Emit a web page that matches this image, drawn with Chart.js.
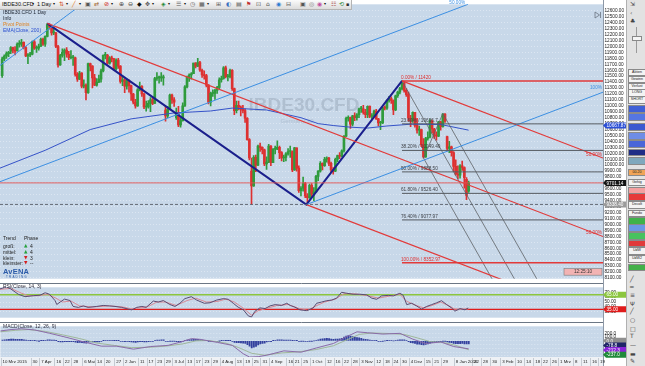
<!DOCTYPE html>
<html><head><meta charset="utf-8">
<script src="https://cdn.jsdelivr.net/npm/chart.js@4.4.1/dist/chart.umd.min.js"></script>
<style>
html,body{margin:0;padding:0;width:645px;height:366px;overflow:hidden;background:#fff;font-family:"Liberation Sans",Arial,sans-serif;}
canvas{position:absolute;left:0;}
.t{position:absolute;white-space:nowrap;line-height:1;z-index:5;}
.g{font-family:"DejaVu Sans",sans-serif;}
#tb{position:absolute;left:0;top:0;width:351px;height:9px;background:linear-gradient(#fbfbfb,#dcdcdc);border-bottom:1px solid #b4b4b4;border-right:1px solid #b4b4b4;z-index:6;font-size:5.5px;color:#111;}
#tools{position:absolute;left:626px;top:0;width:19px;height:366px;background:#e2e2e2;border-left:1px solid #b0b0b0;z-index:6;}
#tools .b{position:absolute;left:1px;width:16px;height:5.6px;border:0.5px solid #8a8a8a;font-size:3.6px;line-height:5.6px;text-align:center;color:#222;overflow:hidden;}
#tools .i{position:absolute;left:3px;font-size:6px;color:#444;font-family:"DejaVu Sans",sans-serif;line-height:1;}
</style></head><body>
<canvas id="main" width="626" height="283" style="top:0px"></canvas>
<canvas id="rsi" width="626" height="39" style="top:283px"></canvas>
<canvas id="macd" width="626" height="44" style="top:322px"></canvas>

<div id="tb">
  <span class="t" style="left:2px;top:2px">IBDE30.CFD</span>
  <span class="t g" style="left:32px;top:2px;font-size:4px">▾</span>
  <span class="t" style="left:37px;top:2px">1 Day</span>
  <span class="t g" style="left:53px;top:2px;font-size:4px">▾</span>
  <span class="t g" style="left:59px;top:1px;color:#d4542a;font-size:6px">⇅</span>
  <span class="t g" style="left:66px;top:2px;font-size:4px">▾</span>
  <span class="t g" style="left:72px;top:1px;color:#e07a20;font-size:6px">╱</span>
  <span class="t g" style="left:79px;top:2px;font-size:4px">▾</span>
  <span class="t g" style="left:85px;top:1px;color:#555;font-size:6px">▣</span>
  <span class="t g" style="left:94px;top:1px;color:#a0622a;font-size:6px">⇄</span>
  <span class="t g" style="left:104px;top:1px;color:#d02020;font-size:6px">⊘</span>
  <span class="t g" style="left:111px;top:2px;font-size:4px">▾</span>
  <span class="t g" style="left:119px;top:1px;color:#444;font-size:6px">⊕</span>
  <span class="t g" style="left:128px;top:1px;color:#444;font-size:6px">⊖</span>
  <span class="t g" style="left:137px;top:1px;color:#111;font-size:6px">◆</span>
  <span class="t g" style="left:145px;top:1px;color:#444;font-size:6px">✥</span>
  <span class="t g" style="left:152px;top:2px;font-size:4px">▾</span>
  <span class="t g" style="left:161px;top:1px;color:#1f8a3a;font-size:6px">◈</span>
  <span class="t g" style="left:168px;top:2px;font-size:4px">▾</span>
  <span class="t g" style="left:176px;top:1px;color:#555;font-size:6px">☰</span>
  <span class="t g" style="left:184px;top:2px;font-size:4px">▾</span>
  <span class="t g" style="left:190px;top:1px;color:#555;font-size:6px">◷</span>
  <span class="t g" style="left:199px;top:1px;color:#555;font-size:6px">▦</span>
  <span class="t g" style="left:207px;top:2px;font-size:4px">▾</span>
  <span class="t g" style="left:216px;top:1px;color:#555;font-size:6px">⊞</span>
  <span class="t g" style="left:226px;top:1px;color:#3a6fc0;font-size:6px">◐</span>
  <span class="t g" style="left:236px;top:1px;color:#555;font-size:6px">▤</span>
  <span class="t g" style="left:246px;top:1px;color:#c03030;font-size:6px">⚑</span>
  <span class="t g" style="left:256px;top:1px;color:#555;font-size:6px">⊡</span>
  <span class="t g" style="left:266px;top:1px;color:#555;font-size:6px">⌂</span>
  <span class="t g" style="left:276px;top:1px;color:#2a7ad0;font-size:6px">◉</span>
  <span class="t g" style="left:286px;top:1px;color:#555;font-size:6px">⊟</span>
  <span class="t g" style="left:300px;top:1px;color:#555;font-size:6px">▣</span>
  <span class="t g" style="left:309px;top:1px;color:#777;font-size:6px">◎</span>
  <span class="t g" style="left:317px;top:1px;color:#c04fa0;font-size:6px">◉</span>
  <span class="t g" style="left:324px;top:2px;font-size:4px">▾</span>
  <span class="t g" style="left:331px;top:1px;color:#a03030;font-size:6px">☷</span>
  <span class="t g" style="left:339px;top:1px;color:#2f8a3a;font-size:6px">⟲</span>
  <span class="t g" style="left:346px;top:2px;color:#333;font-size:5px">▪</span>
</div>

<span class="t" style="left:3px;top:9.5px;font-size:5px;color:#1c2330">IBDE30.CFD 1 Day</span>
<span class="t" style="left:3px;top:15.5px;font-size:5px;color:#1c2330">Info</span>
<span class="t" style="left:3px;top:21.5px;font-size:5px;color:#e0821e">Pivot Points</span>
<span class="t" style="left:3px;top:27.5px;font-size:5px;color:#2a4fd0">EMA(Close, 200)</span>

<span class="t" style="left:3px;top:236px;font-size:5px;color:#222">Trend</span>
<span class="t" style="left:24px;top:236px;font-size:5px;color:#222">Phase</span>
<span class="t" style="left:3px;top:243.5px;font-size:5px;color:#222">groß:</span>
<span class="t g" style="left:24px;top:243.5px;font-size:4.5px;color:#23a03a">▲</span><span class="t" style="left:30px;top:243.5px;font-size:5px;color:#222">4</span>
<span class="t" style="left:3px;top:249.5px;font-size:5px;color:#222">mittel:</span>
<span class="t g" style="left:24px;top:249.5px;font-size:4.5px;color:#23a03a">▲</span><span class="t" style="left:30px;top:249.5px;font-size:5px;color:#222">4</span>
<span class="t" style="left:3px;top:255.5px;font-size:5px;color:#222">klein:</span>
<span class="t g" style="left:24px;top:255.5px;font-size:4.5px;color:#d42020">▼</span><span class="t" style="left:30px;top:255.5px;font-size:5px;color:#222">3</span>
<span class="t" style="left:3px;top:261px;font-size:5px;color:#222">kleinster:</span>
<span class="t g" style="left:24px;top:261px;font-size:4.5px;color:#d42020">▼</span><span class="t" style="left:30px;top:261px;font-size:5px;color:#222">--</span>
<span class="t" style="left:3px;top:268px;font-size:7.5px;font-weight:bold;color:#2a5aa8;letter-spacing:0.2px">AvENA</span>
<span class="t" style="left:6px;top:276px;font-size:3px;color:#2a5aa8;letter-spacing:1.2px">TRADING</span>
<span class="t" style="left:3px;top:284px;font-size:5px;color:#2a2a3a">RSI(Close, 14, 3)</span>
<span class="t" style="left:3px;top:323.5px;font-size:5px;color:#2a2a3a">MACD(Close, 12, 26, 9)</span>

<div id="tools"></div>

<script>
// ---------------- DATA ----------------
const opens = [
11510,11790,11840,11880,11920,11980,11940,11930,12040,12040,
12070,11980,11840,11860,11870,12080,11970,11970,12000,12120,
12040,12170,12370,12340,12230,12230,12000,11690,11850,11900,
11940,11870,11810,11810,11810,11530,11450,11550,11330,11350,
11220,11710,11670,11470,11350,11400,11450,11590,11850,11850,
11720,11810,11790,11620,11770,11670,11410,11440,11330,11420,
11340,11200,11060,11000,11270,11330,11200,10980,10980,11040,
11100,11040,11460,11470,11470,11470,10930,10830,10940,11180,
11100,10800,10890,10680,10750,11000,11320,11480,11520,11540,
11720,11670,11730,11600,11520,11510,11350,11060,11210,11210,
11260,11310,11440,11460,11640,11490,11490,11600,11290,10920,
11010,10980,10940,10920,10790,10430,9900,9650,10130,10000,
10320,10300,10260,10020,10050,10320,10040,10270,10270,10300,
10210,10120,10130,10190,10230,10230,9920,10290,9950,9570,
9610,9690,9480,9450,9660,9510,9550,9810,9900,10030,
9990,10100,10120,10030,9920,9900,10100,10160,10150,10240,
10490,10790,10800,10690,10830,10800,10850,10950,10950,10890,
10850,10990,10820,10830,10910,10780,10710,10710,10970,10960,
11090,11120,11090,10930,11170,11230,11290,11380,11260,11190,
10790,10750,10890,10670,10590,10600,10340,10140,10450,10470,
10740,10610,10500,10490,10730,10650,10860,10480,10280,10310,
10210,9980,9850,9830,9990,9960,9760,9560];
const highs = [
11820,11860,11910,11920,12000,11990,12000,12060,12100,12120,
12080,12000,11880,11900,12090,12100,12010,12040,12140,12140,
12180,12390,12380,12350,12310,12240,12020,11870,11960,11960,
11980,11920,11930,11850,11820,11560,11580,11560,11440,11370,
11720,11720,11680,11530,11460,11520,11620,11860,11900,11870,
11830,11840,11800,11790,11800,11680,11500,11460,11450,11440,
11350,11210,11110,11290,11400,11340,11210,11080,11090,11140,
11150,11480,11560,11500,11560,11520,10990,10990,11200,11200,
11140,10960,10990,10800,11050,11340,11500,11540,11560,11720,
11730,11800,11750,11620,11590,11530,11360,11230,11270,11280,
11330,11470,11500,11660,11670,11530,11620,11610,11300,11080,
11080,11000,11010,10950,10800,10450,10120,10160,10170,10340,
10370,10310,10270,10140,10350,10330,10280,10320,10410,10320,
10230,10170,10210,10280,10320,10240,10300,10290,9990,9640,
9800,9710,9520,9680,9690,9620,9830,9910,10060,10040,
10130,10140,10130,10050,9960,10120,10170,10210,10260,10500,
10810,10830,10810,10840,10880,10870,10960,10990,11010,10940,
11000,11000,10870,10930,10940,10790,10740,10980,11000,11100,
11160,11150,11100,11180,11250,11310,11420,11400,11290,11230,
10840,10900,10890,10790,10660,10610,10450,10470,10560,10770,
10760,10620,10560,10740,10740,10870,10870,10490,10400,10320,
10230,10090,9990,10010,10070,9970,9790,9730];
const lows = [
11480,11760,11800,11830,11880,11890,11860,11920,11990,12000,
11960,11830,11710,11830,11860,11950,11900,11940,12000,12020,
12000,12160,12290,12190,12200,11980,11650,11680,11820,11760,
11820,11780,11790,11680,11500,11410,11440,11300,11300,11100,
11210,11590,11300,11340,11330,11390,11400,11570,11790,11700,
11700,11740,11600,11600,11630,11380,11340,11220,11280,11230,
11090,11030,10960,10990,11250,11160,10950,10910,10960,10900,
11020,11040,11430,11380,11410,11350,10740,10800,10930,11040,
10990,10770,10650,10640,10740,10990,11300,11410,11450,11540,
11640,11660,11580,11480,11450,11320,11030,11000,11160,11110,
11210,11290,11400,11450,11470,11420,11470,11260,10850,10880,
10930,10830,10880,10720,10420,10090,9340,9640,9890,9990,
10230,10190,9990,9930,10040,9990,10040,10190,10260,10110,
10070,10060,10070,10170,10130,9890,9910,9900,9540,9480,
9560,9450,9340,9440,9460,9400,9550,9740,9880,9920,
9980,10050,9990,9880,9850,9890,10060,10110,10140,10220,
10480,10740,10620,10660,10750,10760,10800,10890,10860,10800,
10800,10800,10770,10820,10770,10660,10600,10700,10930,10940,
11060,11040,10850,10920,11140,11200,11270,11230,11160,10740,
10650,10720,10640,10540,10500,10310,10120,10130,10420,10460,
10540,10450,10420,10480,10590,10640,10720,10240,10210,10150,
9890,9830,9770,9780,9910,9610,9420,9540];
const closes = [
11790,11840,11880,11900,11980,11940,11920,12040,12040,12070,
11980,11840,11860,11870,12080,11970,11970,12000,12120,12040,
12170,12370,12340,12230,12230,12000,11690,11850,11900,11940,
11870,11810,11810,11810,11530,11450,11550,11330,11350,11220,
11710,11670,11470,11350,11400,11450,11590,11850,11850,11720,
11810,11790,11620,11770,11670,11410,11440,11330,11420,11340,
11200,11060,11000,11270,11330,11200,10980,10980,11040,11100,
11040,11460,11470,11470,11470,11490,10830,10940,11180,11100,
11060,10890,10680,10750,11000,11320,11480,11520,11540,11720,
11670,11730,11600,11520,11510,11350,11060,11210,11210,11260,
11310,11440,11460,11640,11490,11490,11600,11290,10920,11010,
10980,10940,10920,10790,10430,10120,9650,10130,10000,10320,
10300,10260,10020,10050,10320,10040,10270,10270,10300,10210,
10120,10130,10190,10230,10230,9920,10290,9950,9570,9610,
9690,9480,9450,9660,9510,9550,9810,9900,10030,9990,
10100,10120,10030,9920,9900,10100,10160,10150,10240,10490,
10790,10800,10690,10830,10800,10850,10950,10950,10890,10850,
10990,10820,10830,10910,10780,10710,10710,10970,10960,11090,
11120,11090,10930,11170,11230,11290,11380,11260,11190,10790,
10750,10890,10670,10590,10600,10340,10140,10450,10470,10740,
10610,10500,10490,10730,10650,10860,10740,10280,10310,10210,
9980,9850,9830,9990,9960,9790,9490,9701];

const emaPts = [[-1,9950],[20,10250],[41,10600],[60,10780],[80,10880],[97,10913],[107,10962],[123,10930],[139,10800],[147,10700],[154,10668],[162,10640],[170,10625],[179,10660],[190,10690],[204,10685],[217,10590]];

const navyLine = [[21,12390],[141.5,9335],[186,11420]];
const redChannel = [[[21,12390],[279.5,8797]],[[186,11420],[279.5,10120]],[[141.5,9335],[279.5,7417]]];
const blueLines = [[[-1,9721],[216.7,12711]],[[-1,11681],[37.1,12711]],[[141.5,9335],[279.5,11230]]];
const forkLines = [[[186,11420],[239.6,8000]],[[196,10120],[229.2,8000]],[[205,10870],[250,8000]],[[196,10120],[205,10870]]];
const fibStart = 186;
const fibVals = [11420,10696.2,10248.4,9886.5,9524.6,9077.0,8353.0];
const fibTexts = ["0.00% / 11420","23.60% / 10696.7","38.20% / 10249.49","50.00% / 9888.50","61.80% / 9526.40","76.40% / 9077.97","100.00% / 8352.97"];
const lastPrice = 9701.14;
const swingLow = 9338;

const rsiPts = [[-1,77],[2,81],[4,77],[7.5,66],[10.6,61],[14.5,63],[17.6,64],[20,69],[22,66],[24.6,53],[25.4,45],[27,50],[29,56],[31.6,53],[33,41],[35.4,39],[37.8,42],[40,39],[44,41],[47,43],[50,42],[52.5,41],[55.6,39],[58.7,35.5],[60.3,34],[62.6,39],[65,41],[67,39],[70.3,52],[72.6,50],[75,53],[78,45],[80.4,41],[82.7,47.5],[85,57],[88,61],[90.5,54],[94,47.5],[96.7,48.5],[99.8,54],[102.9,57],[105.2,55.6],[107.5,47.5],[109.8,39.4],[112.2,34],[114.5,21.6],[116,19.3],[117.6,31],[119.9,38],[122.3,36.6],[124.6,42],[127,44.7],[130,43],[132.4,47.5],[134,43],[136.2,39.4],[138.5,34],[141.7,32.3],[144.7,37.8],[146.3,47.5],[148.6,50],[151,52.8],[153.3,54],[155.6,58],[157.9,70],[160.3,68],[163.3,66],[166.4,66],[169.6,64.7],[171.9,58],[174.2,55.6],[176.5,62.6],[179.6,63.7],[182,62.6],[185,68],[186.6,63.7],[188.2,44.7],[190.5,47.5],[192.8,42],[195.1,35.5],[197.5,41],[199.8,44.7],[202.1,48.5],[204.4,52.8],[206.8,44.7],[209.1,37.8],[210.6,31.3],[213,36.6],[215.3,34],[216.8,37.8]];
const rsiSigPts = [[-1,76],[4,78],[8,70],[12,63],[17,63],[21,66],[25,58],[28,50],[32,52],[36,42],[42,40],[50,42],[56,40],[60,36],[64,38],[68,41],[72,50],[76,50],[81,43],[86,53],[90,58],[95,50],[100,51],[104,56],[108,50],[112,38],[116,23],[119,32],[123,37],[128,43],[133,45],[138,37],[142,33],[146,42],[150,50],[155,56],[159,67],[164,67],[170,63],[175,58],[180,62],[185,66],[188,52],[192,44],[196,38],[200,43],[204,50],[208,42],[211,34],[214,35],[217,36]];

const macdPts = [[-1,263],[4,300],[9,320],[15,290],[22,200],[30,90],[38,-30],[46,-140],[53,-140],[61,-220],[69,-150],[77,-120],[83,-30],[88,60],[92,40],[100,-40],[107,-120],[112,-340],[115,-430],[119,-420],[123,-380],[131,-265],[139,-300],[146,-190],[154,-70],[159,80],[165,240],[170,215],[177,180],[185,200],[191,45],[197,-70],[204,-30],[210,-150],[217,-212]];
const macdSigPts = [[-1,240],[6,280],[12,300],[20,250],[28,160],[36,60],[44,-60],[52,-120],[60,-180],[68,-170],[76,-140],[84,-80],[90,0],[96,10],[104,-60],[110,-180],[116,-330],[122,-380],[130,-320],[138,-290],[146,-230],[154,-130],[160,20],[166,170],[172,210],[180,195],[187,170],[193,80],[199,-20],[205,-40],[211,-120],[217,-237]];
const macdHist = [
20,30,35,40,45,45,40,40,42,40,
30,20,10,5,10,5,0,-2,5,5,
10,25,28,22,18,5,-20,-25,-25,-22,
-22,-24,-22,-22,-35,-45,-42,-50,-52,-58,
-35,-25,-28,-32,-30,-25,-15,5,15,15,
15,12,5,8,5,-10,-12,-18,-15,-18,
-25,-32,-38,-28,-18,-18,-25,-25,-22,-15,
-12,10,20,22,25,25,-10,-15,-5,-5,
-8,-20,-30,-28,-15,5,22,30,35,42,
40,40,30,22,15,5,-15,-15,-15,-12,
-10,-2,2,10,5,5,8,-10,-40,-45,
-50,-55,-60,-70,-100,-140,-190,-170,-150,-110,
-80,-65,-60,-30,-15,-20,5,15,25,30,
25,20,20,22,20,5,10,2,-10,-8,
-5,-15,-15,-5,-5,0,15,30,45,55,
60,65,60,45,40,45,48,52,70,100,
130,140,125,115,100,90,80,65,50,40,
35,20,15,15,5,-10,-15,-5,0,5,
10,10,0,10,18,25,30,25,15,-20,
-45,-55,-70,-85,-90,-100,-110,-95,-80,-60,
-45,-40,-35,-22,-20,-5,-8,-30,-40,-50,
-65,-72,-75,-72,-70,-78,-80,-79];

const tickSlots = [0,14,18,25,29,33,38,44,48,53,57,64,68,72,76,80,86,90,94,98,102,109,113,117,121,125,133,136,140,144,151,155,159,163,167,174,178,182,186,190,197,201,205,211,219.5,223.7,228,232.6,239.5,243.7,248,251.6,255.8,259.5,266.5,270.2,274.4,278.1];
const tickLabels = ["10 Mrz 2015","30","7 Apr","16","22","28","6 Mai","14","20","27","2 Jun","11","17","23","29","3 Jul","13","17","23","29","4 Aug","13","19","25","31","4 Sep","16","21","25","1 Oct","12","16","22","28","3 Nov","12","18","24","30","4 Dez","15","21","29","8 Jan 2016","22","28","30","3 Feb","10","14","18","22","26","1 Mrz","8","11","16","19"];

// ---------------- SETUP ----------------
Chart.defaults.font.family = '"Liberation Sans", Arial, sans-serif';
Chart.defaults.font.size = 5;
Chart.defaults.color = '#222';
const X_MIN = -1, X_MAX = 279.5;
const BG = '#c8d8e9';
const FONT = '4.7px "Liberation Sans", Arial, sans-serif';

function xy(p){ return {x:p[0], y:p[1]}; }
function seg(pts, color, width, dash, order){
  return {type:'line', data: pts.map(xy), borderColor: color, borderWidth: width, borderDash: dash || [], pointRadius: 0, fill: false, tension: 0, order: order || 1};
}
function drawTag(ctx, x, y, w, text, bg, fg){
  ctx.save();
  ctx.fillStyle = bg;
  ctx.beginPath();
  ctx.moveTo(x, y); ctx.lineTo(x+3, y-3); ctx.lineTo(x+w, y-3); ctx.lineTo(x+w, y+3); ctx.lineTo(x+3, y+3);
  ctx.closePath(); ctx.fill();
  ctx.fillStyle = fg; ctx.font = FONT; ctx.textBaseline = 'middle'; ctx.textAlign = 'left';
  ctx.fillText(text, x+3.5, y+0.4);
  ctx.restore();
}
function panelBg(c, strip){
  const {ctx, chartArea:a, width, height} = c;
  ctx.save();
  ctx.fillStyle = '#ffffff'; ctx.fillRect(0, 0, width, height);
  ctx.fillStyle = BG; ctx.fillRect(a.left, a.top, a.right - a.left, a.bottom - a.top);
  if (strip) { ctx.fillStyle = '#eef1f5'; ctx.fillRect(0, a.bottom, a.right, height - a.bottom); }
  ctx.strokeStyle = '#8d98a6'; ctx.lineWidth = 1;
  ctx.beginPath(); ctx.moveTo(a.right + 0.5, 0); ctx.lineTo(a.right + 0.5, height); ctx.stroke();
  ctx.restore();
}
function topRule(c){
  const {ctx, chartArea:a} = c;
  ctx.save(); ctx.strokeStyle = '#6c7785'; ctx.lineWidth = 1;
  ctx.beginPath(); ctx.moveTo(0, 0.5); ctx.lineTo(a.right, 0.5); ctx.stroke(); ctx.restore();
}
function yAxis(min, max, tickVals, fmt){
  return {type:'linear', position:'right', min:min, max:max,
    afterFit: s => { s.width = 23; },
    afterBuildTicks: s => { s.ticks = tickVals.map(v => ({value: v})); },
    ticks:{callback: v => fmt(v), padding: 1.5, autoSkip: false, color:'#222', font:{size:4.7}},
    grid:{color:'rgba(236,243,250,0.55)', drawTicks:false, lineWidth:1},
    border:{display:false, dash:[1,2]}};
}
const xHidden = {type:'linear', min:X_MIN, max:X_MAX, display:false, offset:false};
const baseOpts = {responsive:false, devicePixelRatio:1, animation:false, layout:{padding:0, autoPadding:false},
  plugins:{legend:{display:false}, tooltip:{enabled:false}}};

// ---------------- MAIN PRICE PANEL ----------------
const idx = opens.map((_, i) => i);
const candleColor = idx.map(i => closes[i] >= opens[i] ? '#2f9b3d' : '#dd3131');
const priceTicks = []; for (let v = 8100; v <= 12600; v += 100) priceTicks.push(v);

const mainDatasets = [
  {type:'bar', data: idx.map(i => ({x:i, y:[lows[i], highs[i]]})), backgroundColor: candleColor, grouped:false, categoryPercentage:1, barPercentage:1, maxBarThickness:1, order:9},
  {type:'bar', data: idx.map(i => ({x:i, y:[opens[i], closes[i]]})), backgroundColor: candleColor, grouped:false, categoryPercentage:1, barPercentage:1, maxBarThickness:2, minBarLength:1, order:8},
  seg(emaPts, '#3552c8', 1, null, 7),
  seg([[X_MIN, lastPrice],[X_MAX, lastPrice]], '#e25050', 0.9),
  seg([[X_MIN, swingLow],[X_MAX, swingLow]], '#5a5f66', 0.9, [3,2]),
  ...fibVals.map((v, i) => seg([[fibStart, v],[X_MAX, v]], (i === 0 || i === fibVals.length - 1) ? '#e23a3a' : '#555a60', (i === 0 || i === fibVals.length - 1) ? 1.5 : 1)),
  ...blueLines.map(l => seg(l, '#3c8fe2', 1)),
  ...redChannel.map(l => seg(l, '#e23a3a', 1.2)),
  ...forkLines.map(l => seg(l, '#5e6266', 0.8)),
  seg(navyLine, '#1b1f8c', 2)
];

const mainOverlay = {
  id:'mainOverlay',
  beforeDraw(c){ panelBg(c, false); },
  beforeDatasetsDraw(c){
    const {ctx} = c;
    ctx.save();
    ctx.fillStyle = 'rgba(120,134,152,0.30)';
    ctx.font = 'bold 19px "Liberation Sans", Arial, sans-serif';
    ctx.textAlign = 'center'; ctx.textBaseline = 'alphabetic';
    ctx.fillText('IBDE30.CFD', 304, 111);
    ctx.font = '6px "Liberation Sans", Arial, sans-serif';
    ctx.fillText('Germany 30', 297, 123);
    ctx.restore();
  },
  afterDatasetsDraw(c){
    const {ctx, scales:{x, y}, chartArea:a} = c;
    ctx.save();
    ctx.font = FONT; ctx.textBaseline = 'bottom'; ctx.textAlign = 'left';
    fibVals.forEach((v, i) => {
      ctx.fillStyle = (i === 0 || i === fibVals.length - 1) ? '#e03030' : '#3c3f44';
      ctx.fillText(fibTexts[i], x.getPixelForValue(fibStart) - 1, y.getPixelForValue(v) - 1);
    });
    ctx.textAlign = 'right';
    ctx.fillStyle = '#e03030';
    ctx.fillText('50.00%', a.right - 1, y.getPixelForValue(redChannel[0][1][1]) - 1);
    ctx.fillText('50.00%', a.right - 1, y.getPixelForValue(redChannel[1][1][1]) - 1);
    ctx.fillStyle = '#3c8fe2';
    ctx.fillText('100%', a.right - 1, y.getPixelForValue(blueLines[2][1][1]) - 2);
    ctx.textAlign = 'left';
    ctx.fillText('50.00%', x.getPixelForValue(208), 5.5);
    ctx.fillStyle = '#f2b3b3'; ctx.strokeStyle = '#7a7a7a'; ctx.lineWidth = 0.6;
    ctx.fillRect(a.right - 39, a.bottom - 10, 38, 6.5); ctx.strokeRect(a.right - 39, a.bottom - 10, 38, 6.5);
    ctx.fillStyle = '#333'; ctx.textBaseline = 'middle'; ctx.textAlign = 'center';
    ctx.fillText('12:25:10', a.right - 20, a.bottom - 6.6);
    ctx.strokeStyle = '#6a7380'; ctx.lineWidth = 0.8;
    ctx.beginPath(); ctx.moveTo(a.right - 8, 12); ctx.lineTo(a.right - 3.5, 15); ctx.lineTo(a.right - 8, 18); ctx.closePath(); ctx.stroke();
    ctx.beginPath(); ctx.moveTo(a.right - 2.5, 12); ctx.lineTo(a.right - 2.5, 18); ctx.stroke();
    ctx.restore();
  },
  afterDraw(c){
    const {ctx, scales:{y}, chartArea:a} = c;
    drawTag(ctx, a.right, y.getPixelForValue(10667.87), 23, '10667.87', '#2b4fd6', '#fff');
    drawTag(ctx, a.right, y.getPixelForValue(lastPrice), 23, '9701.14', '#141414', '#fff');
    drawTag(ctx, a.right, y.getPixelForValue(swingLow), 23, '9338.40', '#9b9b9b', '#fff');
  }
};

new Chart(document.getElementById('main'), {
  type:'bar',
  data:{datasets: mainDatasets},
  options:Object.assign({}, baseOpts, {scales:{x: xHidden, y: yAxis(8086.6, 12710.8, priceTicks, v => v.toFixed(2))}}),
  plugins:[mainOverlay]
});

// ---------------- RSI PANEL ----------------
const rsiOverlay = {
  id:'rsiOverlay',
  beforeDraw(c){ panelBg(c, false); },
  afterDraw(c){
    const {ctx, scales:{y}, chartArea:a} = c;
    topRule(c);
    drawTag(ctx, a.right, y.getPixelForValue(65), 23, '65.00', '#8cc63f', '#fff');
    drawTag(ctx, a.right, y.getPixelForValue(35), 23, '35.00', '#e01b1b', '#fff');
  }
};
new Chart(document.getElementById('rsi'), {
  type:'line',
  data:{datasets:[
    seg([[X_MIN,65],[X_MAX,65]], '#8cc63f', 1.3, null, 3),
    seg([[X_MIN,35],[X_MAX,35]], '#e01b1b', 1.3, null, 3),
    seg(rsiSigPts, '#d88a96', 1, null, 2),
    seg(rsiPts, '#5a4c72', 1, null, 1)
  ]},
  options:Object.assign({}, baseOpts, {scales:{x: xHidden, y: yAxis(17.9, 80.2, [30,40,50,60,70], v => v.toFixed(2))}}),
  plugins:[rsiOverlay]
});

// ---------------- MACD PANEL ----------------
const macdOverlay = {
  id:'macdOverlay',
  beforeDraw(c){
    panelBg(c, true);
    const {ctx, scales:{x}, chartArea:a, height} = c;
    ctx.save(); ctx.strokeStyle = '#a9b1bb'; ctx.lineWidth = 0.6;
    tickSlots.forEach(s => { const px = Math.round(x.getPixelForValue(s)) - 1.5; ctx.beginPath(); ctx.moveTo(px, a.bottom + 1); ctx.lineTo(px, height); ctx.stroke(); });
    ctx.restore();
  },
  afterDraw(c){
    const {ctx, scales:{y}, chartArea:a} = c;
    topRule(c);
    const tags = [[0,'0.0','#8f8f8f'],[-78.8,'-78.8','#1f2468'],[-212.3,'-212.3','#8a24d8'],[-237.0,'-237.0','#1f8a3a']];
    let last = -99;
    tags.forEach(t => {
      let py = y.getPixelForValue(t[0]);
      if (py < last + 4.6) py = last + 4.6;
      last = py;
      drawTag(ctx, a.right, py, 23, t[1], t[2], '#fff');
    });
  }
};
new Chart(document.getElementById('macd'), {
  type:'bar',
  data:{datasets:[
    {type:'bar', data: idx.map(i => ({x:i, y:macdHist[i]})), backgroundColor:'#33409e', grouped:false, categoryPercentage:1, barPercentage:1, maxBarThickness:1.2, order:5},
    seg(macdSigPts, '#9fb79a', 1, null, 2),
    seg(macdPts, '#8a6aa8', 1, null, 1)
  ]},
  options:Object.assign({}, baseOpts, {scales:{
    x:{type:'linear', min:X_MIN, max:X_MAX, offset:false, position:'bottom',
      afterFit: s => { s.height = 9; },
      afterBuildTicks: s => { s.ticks = tickSlots.map(v => ({value: v})); },
      ticks:{callback:(v, i) => tickLabels[i], align:'start', maxRotation:0, minRotation:0, autoSkip:false, padding:2.5, color:'#222', font:{size:4.4}},
      grid:{display:false, drawTicks:false, tickLength:0}, border:{display:false}},
    y: yAxis(-428, 386, [300,200,100,0,-100,-200,-300,-400], v => (v === 200 || v === 100) ? v.toFixed(1) : '')
  }}),
  plugins:[macdOverlay]
});

// ---------------- RIGHT TOOL COLUMN ----------------
const toolButtons = [[71.7,'Aktien'],[78.6,'Gewinn'],[85.5,'Verlust'],[92.4,'LONG'],[99.3,'SHORT']];
const toolSwatches = [[108,'#3f5fd6',''],[116,'#5576e2',''],[126,'#3b59d0',''],[135,'#6e8de6',''],[143,'#4a66d8',''],[151.5,'#1f2d86',''],[160,'#7fa8bd',''],[171.7,'#f0a457','00.20'],[181.7,'#f3f3f3','Gehig'],[190,'#f4a0a0',''],[196,'#e63a3a',''],[204,'#f3f3f3','Decolt'],[212.7,'#f3f3f3','Fundo'],[220,'#3fb24a',''],[227.3,'#6a98e6',''],[235,'#47c25f',''],[242.7,'#e03a3a',''],[250,'#f3f3f3','UdW'],[258.3,'#f3f3f3','UdW2'],[266.7,'#43b04a','']];
const toolIcons = [[1,'⇲'],[10,'‹'],[18,'♣'],[276,'╱'],[284,'═'],[292,'≡'],[300.5,'Ψ'],[308,'╱'],[317,'○'],[325.5,'□'],[333,'T'],[341.5,'—'],[350.5,'▬'],[358,'✎']];
const tools = document.getElementById('tools');
let html = '<div style="position:absolute;left:8.5px;top:27px;width:1px;height:26px;background:#9a9a9a"></div><div style="position:absolute;left:5px;top:36px;width:8px;height:3px;background:#f5f5f5;border:0.5px solid #888"></div>';
toolButtons.forEach(b => { html += '<div class="b" style="top:' + (b[0] - 3) + 'px;background:#f4f4f4">' + b[1] + '</div>'; });
toolSwatches.forEach(s => { html += '<div class="b" style="top:' + (s[0] - 3) + 'px;background:' + s[1] + '">' + s[2] + '</div>'; });
toolIcons.forEach(ic => { html += '<div class="i" style="top:' + ic[0] + 'px">' + ic[1] + '</div>'; });
tools.innerHTML = html;
</script>
</body></html>
